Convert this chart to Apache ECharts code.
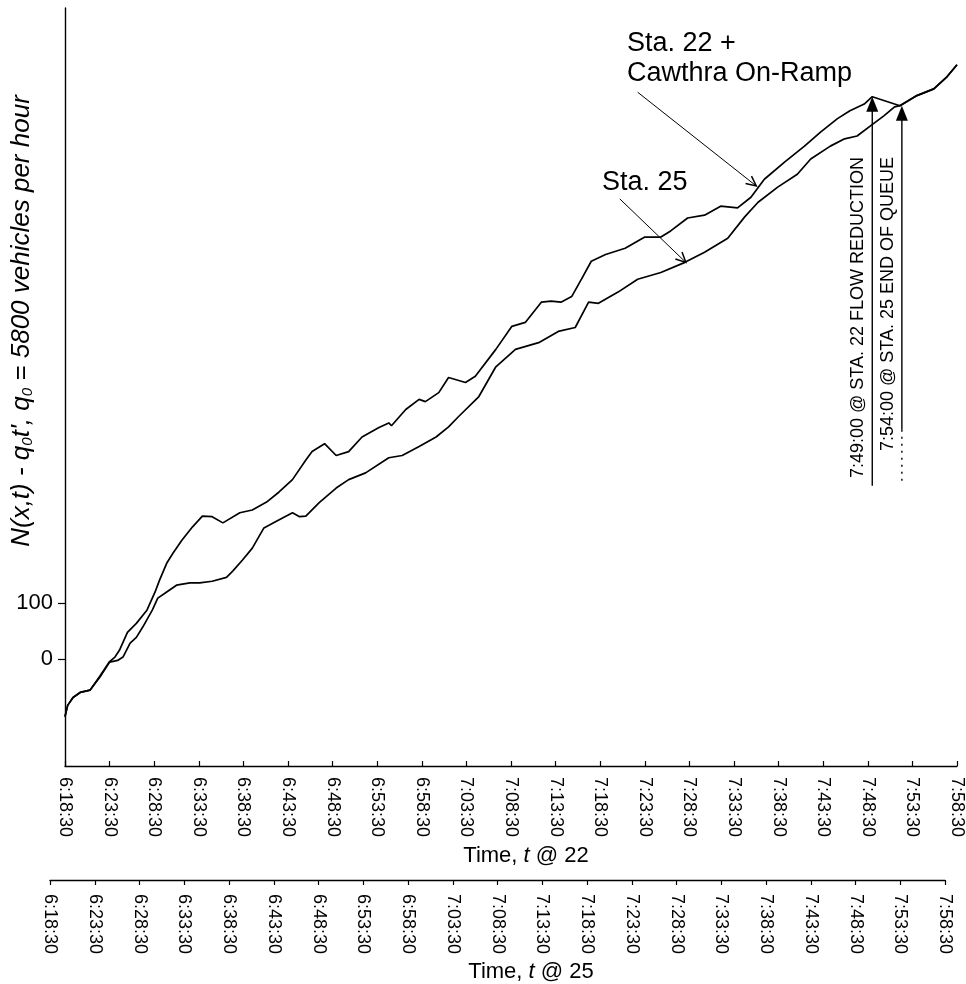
<!DOCTYPE html>
<html>
<head>
<meta charset="utf-8">
<script src="https://cdn.jsdelivr.net/npm/echarts@6/dist/echarts.min.js"></script>
<style>
html, body { margin: 0; padding: 0; background: #fff; }
#chart { width: 966px; height: 984px; }
</style>
</head>
<body>
<div id="chart"></div>
<script>
// minutes after 6:18:30 (time at station 22) and cumulative count N(x,t) - q0 t'
const sta22Time = [0, 0.3, 0.9, 1.7, 2.8, 3.9, 5.0, 5.6, 6.1, 7.0, 8.0, 9.2, 10.1, 10.6, 11.4, 12.1, 13.1, 14.3, 15.4, 16.5,
  17.7, 19.6, 21.0, 22.6, 24.0, 25.5, 27.0, 27.7, 29.1, 30.4, 31.8, 33.3, 35.2, 36.3, 36.6, 38.2, 39.7, 40.4, 41.9, 43.0,
  44.9, 46.0, 48.3, 50.1, 51.6, 53.4, 54.5, 55.6, 56.8, 57.9, 59.0, 60.6, 62.8, 65.0, 66.8, 67.9, 69.8, 71.7, 73.5, 75.4,
  76.9, 78.4, 80.7, 82.9, 84.7, 86.6, 88.0, 89.6, 90.5, 93.6, 95.5, 97.4, 98.9, 100];
const sta22Count = [-102, -82, -68, -59, -55, -30, -4, 4, 16, 48, 64, 88, 120, 141, 171, 189, 212, 236, 255, 254,
  243, 261, 266, 280, 298, 320, 355, 370, 384, 363, 370, 396, 413, 421, 416, 445, 463, 459, 475, 502,
  493, 504, 552, 593, 600, 636, 638, 636, 646, 677, 709, 721, 732, 752, 752, 763, 786, 791, 807, 804,
  823, 855, 886, 914, 939, 963, 977, 989, 1002, 986, 1004, 1016, 1038, 1059];

const sta25Time = [0, 0.3, 0.9, 1.7, 2.8, 3.9, 5.0, 5.9, 6.5, 7.3, 8.0, 8.7, 9.8, 10.4, 11.4, 12.5, 14.0, 15.1, 16.5, 18.1,
  18.8, 19.9, 21.0, 22.3, 23.7, 25.5, 26.3, 27.0, 28.5, 30.4, 31.8, 33.7, 36.3, 37.8, 39.7, 41.6, 43.0, 44.1, 46.4, 48.3,
  50.5, 53.1, 55.3, 57.2, 58.7, 59.8, 62.0, 64.2, 66.8, 69.5, 71.7, 74.3, 76.2, 77.7, 79.9, 82.1, 83.6, 85.8, 87.4, 88.8,
  90.3, 91.8, 93.0, 93.6, 95.5, 97.4, 98.9, 100];
const sta25Count = [-102, -82, -68, -59, -55, -32, -5, -2, 4, 29, 39, 57, 88, 109, 120, 132, 136, 136, 139, 146,
  157, 177, 198, 234, 246, 261, 254, 255, 279, 305, 320, 332, 359, 363, 379, 396, 414, 432, 468, 521,
  552, 564, 584, 591, 636, 634, 654, 677, 689, 707, 725, 750, 788, 814, 841, 864, 891, 914, 927, 932,
  950, 968, 984, 986, 1004, 1016, 1038, 1059];

const yTicks = [0, 100];
const startTime = 6 * 3600 + 18 * 60 + 30;   // 6:18:30
const shift25 = 1.68;          // t@25 axis is ahead of t@22 by this many minutes
const flowReduction22 = 90.5;  // 7:49:00 @ sta. 22
const endOfQueue25 = 95.5;     // 7:54:00 @ sta. 25
const markerBottom = 309;

const FONT = '"Liberation Sans", Arial, sans-serif';

function pad(n) { return (n < 10 ? '0' : '') + n; }
function fmtTime(m) {
  const s = startTime + Math.round(m * 60);
  return Math.floor(s / 3600) + ':' + pad(Math.floor(s % 3600 / 60)) + ':' + pad(s % 60);
}
const zip = (a, b) => a.map((v, i) => [v, b[i]]);

const timeAxis = (gridIndex, margin) => ({
  gridIndex: gridIndex,
  type: 'value',
  min: 0,
  max: 100,
  interval: 5,
  axisLine: { onZero: false, lineStyle: { color: '#000', width: 1.4 } },
  axisTick: { inside: gridIndex === 0, length: 5, lineStyle: { color: '#000', width: 1.2 } },
  axisLabel: { rotate: -90, margin: margin, fontSize: 18, color: '#000', fontFamily: FONT, formatter: fmtTime },
  splitLine: { show: false }
});

const chart = echarts.init(document.getElementById('chart'));

chart.setOption({
  animation: false,
  backgroundColor: '#fff',
  grid: [
    { left: 65, right: 6, top: 8, bottom: 218 },
    { left: 50, width: 895, top: 879, height: 1 }
  ],
  xAxis: [timeAxis(0, 11), timeAxis(1, 14)],
  yAxis: [
    {
      gridIndex: 0,
      type: 'value',
      min: -190,
      max: 1160,
      axisLine: { show: true, onZero: false, lineStyle: { color: '#000', width: 1.4 } },
      axisTick: { show: true, length: 7, customValues: yTicks, lineStyle: { color: '#000', width: 1.2 } },
      axisLabel: { customValues: yTicks, fontSize: 22, margin: 12, color: '#000', fontFamily: FONT },
      splitLine: { show: false }
    },
    { gridIndex: 1, type: 'value', min: 0, max: 1, show: false }
  ],
  series: [
    {
      name: 'Sta. 22 + Cawthra On-Ramp',
      type: 'line',
      data: zip(sta22Time, sta22Count),
      showSymbol: false,
      lineStyle: { color: '#000', width: 1.7 }
    },
    {
      name: 'Sta. 25',
      type: 'line',
      data: zip(sta25Time, sta25Count),
      showSymbol: false,
      lineStyle: { color: '#000', width: 1.7 }
    }
  ]
});

// annotations, placed through the chart's own scales
const px = (m, v) => chart.convertToPixel({ gridIndex: 0 }, [m, v]);

function arrowLine(from, to) {
  const a = px(from[0], from[1]);
  const b = px(to[0], to[1]);
  const ang = Math.atan2(b[1] - a[1], b[0] - a[0]);
  const len = 11, spread = 0.45;
  const h1 = [b[0] - len * Math.cos(ang - spread), b[1] - len * Math.sin(ang - spread)];
  const h2 = [b[0] - len * Math.cos(ang + spread), b[1] - len * Math.sin(ang + spread)];
  return [
    { type: 'line', shape: { x1: a[0], y1: a[1], x2: b[0], y2: b[1] }, style: { stroke: '#000', lineWidth: 1 } },
    { type: 'polyline', shape: { points: [h1, b, h2] }, style: { stroke: '#000', lineWidth: 1.5, fill: null } }
  ];
}

function marker(m, top, label, solidTo) {
  const t = px(m, top);
  const b = px(m, markerBottom);
  const els = [];
  if (solidTo != null) {
    const s = px(m, solidTo);
    els.push({ type: 'line', shape: { x1: t[0], y1: t[1] + 12, x2: s[0], y2: s[1] }, style: { stroke: '#000', lineWidth: 1.4 } });
    els.push({ type: 'line', shape: { x1: s[0], y1: s[1], x2: b[0], y2: b[1] }, style: { stroke: '#000', lineWidth: 1.4, lineDash: [2, 5] } });
  } else {
    els.push({ type: 'line', shape: { x1: t[0], y1: t[1] + 12, x2: b[0], y2: b[1] }, style: { stroke: '#000', lineWidth: 1.4 } });
  }
  els.push({ type: 'polygon', shape: { points: [[t[0], t[1]], [t[0] - 6, t[1] + 15], [t[0] + 6, t[1] + 15]] }, style: { fill: '#000' } });
  els.push({
    type: 'text', x: t[0] - 14, y: 157, rotation: Math.PI / 2,
    style: { text: label, fontSize: 18, fontFamily: FONT, fill: '#000', align: 'right', verticalAlign: 'middle' }
  });
  return els;
}

const labelStyle = { fontSize: 27, fontFamily: FONT, fill: '#000', align: 'left', verticalAlign: 'middle' };

const graphics = [].concat(
  arrowLine([64.2, 1010], [77.5, 843]),
  arrowLine([62.2, 820], [69.6, 707]),
  marker(flowReduction22, sta22Count[sta22Time.indexOf(flowReduction22)], '7:49:00 @ STA. 22 FLOW REDUCTION'),
  marker(endOfQueue25 - shift25, 986, '7:54:00 @ STA. 25 END OF QUEUE', 409),
  [
    { type: 'text', x: 627, y: 44, style: Object.assign({ text: 'Sta. 22 +' }, labelStyle) },
    { type: 'text', x: 627, y: 74, style: Object.assign({ text: 'Cawthra On-Ramp' }, labelStyle) },
    { type: 'text', x: 602, y: 183, style: Object.assign({ text: 'Sta. 25' }, labelStyle) },
    {
      type: 'text', x: 22, y: 321, rotation: Math.PI / 2,
      style: {
        text: '{a|N(x,t) - q}{s|0}{a|t\', q}{s|0}{a| = 5800 vehicles per hour}',
        fill: '#000', align: 'center', verticalAlign: 'middle',
        rich: {
          a: { fontSize: 26, fontStyle: 'italic', fontFamily: FONT, fill: '#000' },
          s: { fontSize: 15, fontStyle: 'italic', fontFamily: FONT, fill: '#000', verticalAlign: 'bottom' }
        }
      }
    },
    {
      type: 'text', x: 526, y: 856,
      style: {
        text: 'Time, {i|t} @ 22', fontSize: 22, fontFamily: FONT, fill: '#000', align: 'center', verticalAlign: 'middle',
        rich: { i: { fontSize: 22, fontStyle: 'italic', fontFamily: FONT, fill: '#000' } }
      }
    },
    {
      type: 'text', x: 531, y: 972,
      style: {
        text: 'Time, {i|t} @ 25', fontSize: 22, fontFamily: FONT, fill: '#000', align: 'center', verticalAlign: 'middle',
        rich: { i: { fontSize: 22, fontStyle: 'italic', fontFamily: FONT, fill: '#000' } }
      }
    }
  ]
);

chart.setOption({ graphic: graphics });
</script>
</body>
</html>
